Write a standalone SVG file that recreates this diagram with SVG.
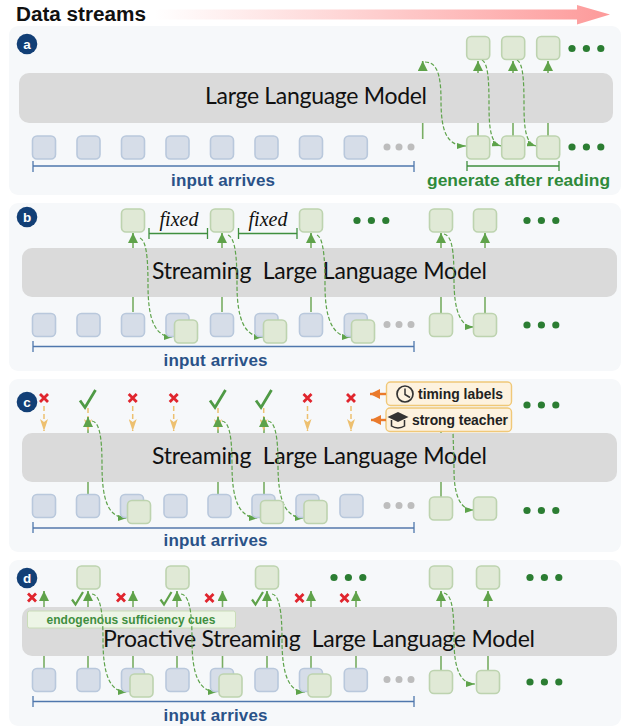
<svg xmlns="http://www.w3.org/2000/svg" width="622" height="726" viewBox="0 0 622 726">
<style>
text{font-family:"Liberation Sans",Arial,sans-serif}
.panel{fill:#f6f8fa}
.bar{fill:#dadada}
.model{font-family:Lato,"Noto Sans",sans-serif;font-size:23px;fill:#111}
.in{fill:#d6dde8;stroke:#b9c8dc;stroke-width:1.6}
.gr{fill:#e0e9d6;stroke:#bdd3af;stroke-width:1.6}
.stem{stroke:#78ad63;stroke-width:1.6;fill:none}
.up{stroke:#5fa24a;stroke-width:1.6;fill:none;marker-end:url(#up)}
.dash{stroke:#5ea34b;stroke-width:1.2;stroke-dasharray:4 2;fill:none;marker-end:url(#dh)}
.ora{stroke:#edc070;stroke-width:1.5;stroke-dasharray:5 3;fill:none;marker-end:url(#oh)}
.hb{stroke:#4f77ad;stroke-width:1.3;fill:none}
.gb{stroke:#3f8f3f;stroke-width:1.3;fill:none}
.blab{font-weight:700;font-size:17px;fill:#2a5288;text-anchor:middle}
.glab{font-weight:700;font-size:17.4px;fill:#2f8a3a;text-anchor:middle}
.fixed{font-family:"Liberation Serif",serif;font-style:italic;font-size:20px;fill:#111;text-anchor:middle}
.badge{fill:#123f76}
.bt{font-weight:700;font-size:13.500px;fill:#fff;text-anchor:middle}
.lab{fill:#fdf2df;stroke:#f0c878;stroke-width:1.4}
.labt{font-weight:700;font-size:13.900px;fill:#222}
.orarr{stroke:#ea7a2c;stroke-width:2.400;fill:none;marker-end:url(#ah)}
</style>
<defs>
<linearGradient id="sg" x1="155" y1="0" x2="610" y2="0" gradientUnits="userSpaceOnUse"><stop offset="0" stop-color="#fff"/><stop offset="1" stop-color="#fd9a9a"/></linearGradient>
<marker id="up" markerUnits="userSpaceOnUse" viewBox="0 0 10 10" refX="10" refY="5" markerWidth="10" markerHeight="10" orient="auto"><path d="M0 0L10 5L0 10Z" fill="#5fa24a"/></marker>
<marker id="dh" markerUnits="userSpaceOnUse" viewBox="0 0 9 6" refX="9" refY="3" markerWidth="9" markerHeight="6" orient="auto"><path d="M0 0L9 3L0 6Z" fill="#5ea34b"/></marker>
<marker id="oh" markerUnits="userSpaceOnUse" viewBox="0 0 12 8" refX="12" refY="4" markerWidth="12" markerHeight="8" orient="auto"><path d="M0 0L12 4L0 8L3 4Z" fill="#edc070"/></marker>
<marker id="ah" markerUnits="userSpaceOnUse" viewBox="0 0 10 10" refX="10" refY="5" markerWidth="10" markerHeight="10" orient="auto"><path d="M0 0L10 5L0 10Z" fill="#ea7a2c"/></marker>
<g id="gd"><circle cx="0" cy="0" r="3.600" fill="#2b7d32"/><circle cx="14.400" cy="0" r="3.600" fill="#2b7d32"/><circle cx="28.800" cy="0" r="3.600" fill="#2b7d32"/></g>
<g id="yd"><circle cx="0" cy="0" r="3.500" fill="#bdbdbd"/><circle cx="12" cy="0" r="3.500" fill="#bdbdbd"/><circle cx="24" cy="0" r="3.500" fill="#bdbdbd"/></g>
<path id="rx" d="M-4-4L4 4M4-4L-4 4" stroke="#e0252d" stroke-width="2.800" fill="none"/>
<path id="ck" d="M-8 1.500L-3 8.500L7.500-9" stroke="#4f9a45" stroke-width="2.800" fill="none"/>
<path id="ckd" d="M-5.500 1L-2 6L5.500-6.500" stroke="#5fa24a" stroke-width="2.200" fill="none"/>
<rect id="in" class="in" x="0" y="0" width="23" height="23" rx="4.500"/>
<rect id="gr" class="gr" x="0" y="0" width="23" height="23" rx="4.500"/>
</defs>

<g id="header">
<text x="16" y="21" font-size="20.700" font-weight="700" fill="#111" textLength="130">Data streams</text>
<path d="M155 9.500H577V5L610 14.500L577 24.500V19.500H155Z" fill="url(#sg)"/>
</g>

<g id="panels">
<rect class="panel" x="9" y="26" width="612" height="169" rx="9"/>
<rect class="panel" x="9" y="203" width="612" height="168" rx="9"/>
<rect class="panel" x="9" y="379" width="612" height="173" rx="9"/>
<rect class="panel" x="9" y="560" width="612" height="166" rx="9"/>
</g>

<g id="models">
<g id="model-a"><rect class="bar" x="19" y="73" width="594" height="50" rx="10"/><text class="model" x="205" y="104" textLength="222">Large Language Model</text></g>
<g id="model-b"><rect class="bar" x="22" y="248" width="595" height="49" rx="10"/><text class="model" x="152" y="279" xml:space="preserve" textLength="335">Streaming  Large Language Model</text></g>
<g id="model-c"><rect class="bar" x="22" y="433" width="595" height="49" rx="10"/><text class="model" x="152" y="464" xml:space="preserve" textLength="335">Streaming  Large Language Model</text></g>
<g id="model-d"><rect class="bar" x="22" y="607" width="595" height="49" rx="10"/>
<rect x="27.500" y="611" width="208" height="17" rx="2" fill="#edf5e6" stroke="#c9dcb8"/>
<text x="131" y="624" font-size="12" font-weight="700" fill="#3f8f3f" text-anchor="middle" textLength="169">endogenous sufficiency cues</text>
<text class="model" x="103" y="647" xml:space="preserve" textLength="432">Proactive Streaming  Large Language Model</text></g>
</g>

<g id="connectors">
<!-- a -->
<path class="stem" d="M422.700 123V139M478 123V136M513 123V136M548 123V136M478 71V73M513 71V73M548 71V73"/>
<path class="up" d="M422.700 71V61"/><path class="up" d="M478 71V61"/><path class="up" d="M513 71V61"/><path class="up" d="M548 71V61"/>
<path class="dash" d="M425 62C437 62 441 75 441 100C441 130 446 146 466 146"/>
<path class="dash" d="M482 60C488 63 489 80 489 105C489 130 491 143 501 146"/>
<path class="dash" d="M517 60C523 63 524 80 524 105C524 130 526 143 536 146"/>
<path class="hb" d="M33 166H414M33 161V172M414 161V172"/>
<path class="gb" d="M467 166H559M467 161V171M559 161V171"/>
<!-- b -->
<path class="stem" d="M133 297V312M222 297V312M311 297V312M441 297V313M485 297V313M133 243V248M222 243V248M311 243V248M441 243V248M485 243V248"/>
<path class="up" d="M133 243V233"/><path class="up" d="M222 243V233"/><path class="up" d="M311 243V233"/><path class="up" d="M441 243V233"/><path class="up" d="M485 243V233"/>
<path class="dash" d="M140 238C146 241 148 255 148 285C148 320 155 337 173 337"/>
<path class="dash" d="M228 235C235 238 237 255 237 285C237 320 245 337 263 337"/>
<path class="dash" d="M317 235C323 238 325 255 325 285C325 320 333 337 351 337"/>
<path class="dash" d="M444 234C452 236 454 250 454 280C454 312 461 327 474 327"/>
<path class="gb" d="M149 233.500H207.500M149 228V239M207.500 228V239"/>
<path class="gb" d="M238.500 233.500H297M238.500 228V239M297 228V239"/>
<path class="hb" d="M33 346.500H414M33 341V352M414 341V352"/>
<!-- c -->
<path class="stem" d="M88 482V494M218 482V494M264 482V494M441 482V497M88 426V433M218 426V433M264 426V433M441 431V433"/>
<path class="ora" d="M44 406V431"/><path class="ora" d="M88 408V431"/><path class="ora" d="M132.700 406V431"/><path class="ora" d="M173.700 406V431"/><path class="ora" d="M218 408V431"/><path class="ora" d="M263.700 408V431"/><path class="ora" d="M307.500 406V431"/><path class="ora" d="M351 406V431"/>
<path class="up" d="M88 426V417"/><path class="up" d="M218 426V417"/><path class="up" d="M264 426V417"/>
<path class="dash" d="M92 421C99 422 102 435 102 465C102 500 108 518 127 518"/>
<path class="dash" d="M222 421C229 422 232 435 232 465C232 500 239 518 258 518"/>
<path class="dash" d="M268 421C275 422 278 435 278 465C278 500 285 518 304 518"/>
<path class="dash" d="M453 428C453 440 454 455 454 470C454 495 460 510 474 510"/>
<path d="M33 528H414" stroke="#7d98bf" stroke-width="2" fill="none"/><path class="hb" d="M33 522V533M414 522V533"/>
<!-- d -->
<path class="stem" d="M44 656V668M88 656V668M133 656V668M177 656V668M222.500 656V668M267 656V668M311 656V668M356 656V668M441 656V670M488 656V670M44 600V607M88 600V607M133 600V607M177 600V607M222.500 600V607M267 600V607M311 600V607M356 600V607M441 600V607M488 600V607"/>
<path class="up" d="M44 600V591"/><path class="up" d="M88 600V591"/><path class="up" d="M133 600V591"/><path class="up" d="M177 600V591"/><path class="up" d="M222.500 600V591"/><path class="up" d="M267 600V591"/><path class="up" d="M311 600V591"/><path class="up" d="M356 600V591"/><path class="up" d="M441 600V591"/><path class="up" d="M488 600V591"/>
<path class="dash" d="M92 594C100 595 103 610 103 640C103 675 110 692 127 692"/>
<path class="dash" d="M181 594C189 595 192 610 192 640C192 675 199 692 217 692"/>
<path class="dash" d="M272 594C279 595 282 610 282 640C282 675 289 692 305 692"/>
<path class="dash" d="M444 593C452 595 454 610 454 640C454 670 461 684 475 684"/>
<path class="hb" d="M33 701.500H414M33 696V707M414 696V707"/>
</g>

<g id="panel-a">
<g id="badge-a"><circle class="badge" cx="27" cy="44" r="10.300"/><text class="bt" x="27" y="48.500">a</text></g>
<g id="a-inputs"><use href="#in" x="32.500" y="136"/><use href="#in" x="77" y="136"/><use href="#in" x="121.500" y="136"/><use href="#in" x="166" y="136"/><use href="#in" x="210.500" y="136"/><use href="#in" x="255" y="136"/><use href="#in" x="299.500" y="136"/><use href="#in" x="344.300" y="136"/><use href="#yd" x="387" y="147"/></g>
<g id="a-outputs"><use href="#gr" x="466.700" y="136"/><use href="#gr" x="501.700" y="136"/><use href="#gr" x="536.700" y="136"/><use href="#gd" x="572" y="147"/><use href="#gr" x="466.700" y="36.500"/><use href="#gr" x="501.700" y="36.500"/><use href="#gr" x="536.700" y="36.500"/><use href="#gd" x="572" y="48.500"/></g>
<text class="blab" x="223" y="186" textLength="104">input arrives</text>
<text class="glab" x="518.500" y="186" textLength="183">generate after reading</text>
</g>

<g id="panel-b">
<g id="badge-b"><circle class="badge" cx="27" cy="217" r="10.300"/><text class="bt" x="27" y="221.800">b</text></g>
<g id="b-inputs"><use href="#in" x="32.500" y="313.500"/><use href="#in" x="77" y="313.500"/><use href="#in" x="121.500" y="313.500"/><use href="#in" x="166" y="313.500"/><use href="#in" x="210.500" y="313.500"/><use href="#in" x="255" y="313.500"/><use href="#in" x="299.500" y="313.500"/><use href="#in" x="344.300" y="313.500"/><use href="#yd" x="387" y="324.500"/></g>
<g id="b-outputs"><use href="#gr" x="174.500" y="320"/><use href="#gr" x="263.500" y="320"/><use href="#gr" x="351.500" y="320"/><use href="#gr" x="121.500" y="209"/><use href="#gr" x="210.500" y="209"/><use href="#gr" x="299.500" y="209"/><use href="#gd" x="357" y="220.500"/><use href="#gr" x="429.500" y="209"/><use href="#gr" x="473.500" y="209"/><use href="#gd" x="527" y="220.500"/><use href="#gr" x="429.500" y="313.500"/><use href="#gr" x="473.500" y="313.500"/><use href="#gd" x="527" y="325"/></g>
<text class="fixed" x="179" y="226">fixed</text><text class="fixed" x="268" y="226">fixed</text>
<text class="blab" x="215.500" y="366" textLength="104">input arrives</text>
</g>

<g id="panel-c">
<g id="badge-c"><circle class="badge" cx="27" cy="402" r="10.300"/><text class="bt" x="27" y="406.800">c</text></g>
<g id="c-marks"><use href="#rx" x="44" y="398"/><use href="#ck" x="88" y="399"/><use href="#rx" x="132.700" y="398"/><use href="#rx" x="173.700" y="398"/><use href="#ck" x="218" y="399"/><use href="#ck" x="264" y="399"/><use href="#rx" x="307.500" y="398"/><use href="#rx" x="351" y="398"/></g>
<g id="c-inputs"><use href="#in" x="32.500" y="494.500"/><use href="#in" x="76.500" y="494.500"/><use href="#in" x="120.500" y="494.500"/><use href="#in" x="164" y="494.500"/><use href="#in" x="208" y="494.500"/><use href="#in" x="252" y="494.500"/><use href="#in" x="296" y="494.500"/><use href="#in" x="340" y="494.500"/><use href="#yd" x="387" y="505.500"/></g>
<g id="c-outputs"><use href="#gr" x="127.500" y="500.500"/><use href="#gr" x="260.500" y="500.500"/><use href="#gr" x="304" y="500.500"/><use href="#gr" x="429.500" y="497"/><use href="#gr" x="473.500" y="497"/><use href="#gd" x="527" y="510.500"/><use href="#gd" x="527" y="405"/></g>
<g id="timing-labels"><rect class="lab" x="386.500" y="382" width="125" height="23.500" rx="4"/>
<circle cx="405" cy="394" r="8" fill="none" stroke="#333" stroke-width="1.700"/><path d="M405 388.500V394.500L410 397.500" fill="none" stroke="#333" stroke-width="1.500"/>
<text class="labt" x="418" y="399" textLength="85">timing labels</text></g>
<g id="strong-teacher"><rect class="lab" x="386" y="408" width="125.500" height="23.500" rx="4"/>
<path d="M398 412L408.500 417L398 422L387.500 417Z" fill="#333"/><path d="M391.500 420V426C395 428.500 401 428.500 404.500 426V420" fill="none" stroke="#333" stroke-width="1.500"/>
<text class="labt" x="412" y="424.500" textLength="96">strong teacher</text></g>
<path class="orarr" d="M386 394H370"/><path class="orarr" d="M386 420H371"/>
<text class="blab" x="215.500" y="546" textLength="104">input arrives</text>
</g>

<g id="panel-d">
<g id="badge-d"><circle class="badge" cx="27" cy="578" r="10.300"/><text class="bt" x="27" y="582.800">d</text></g>
<g id="d-marks"><use href="#rx" x="32" y="597.500"/><use href="#ckd" x="77.500" y="598.500"/><use href="#rx" x="121" y="597.500"/><use href="#ckd" x="166" y="598.500"/><use href="#rx" x="209.500" y="598"/><use href="#ckd" x="257.500" y="598.500"/><use href="#rx" x="299.500" y="598"/><use href="#rx" x="344.500" y="598"/></g>
<g id="d-inputs"><use href="#in" x="32.500" y="668.500"/><use href="#in" x="77" y="668.500"/><use href="#in" x="121.500" y="668.500"/><use href="#in" x="166" y="668.500"/><use href="#in" x="210.500" y="668.500"/><use href="#in" x="255" y="668.500"/><use href="#in" x="299.500" y="668.500"/><use href="#in" x="344.300" y="668.500"/><use href="#yd" x="387" y="679.500"/></g>
<g id="d-outputs"><use href="#gr" x="130" y="674"/><use href="#gr" x="219" y="674"/><use href="#gr" x="308" y="674"/><use href="#gr" x="77" y="566"/><use href="#gr" x="166" y="566"/><use href="#gr" x="255.500" y="566"/><use href="#gd" x="334" y="577.500"/><use href="#gr" x="429.500" y="566"/><use href="#gr" x="476.500" y="566"/><use href="#gd" x="530" y="577.500"/><use href="#gr" x="429.500" y="670.500"/><use href="#gr" x="476.500" y="670.500"/><use href="#gd" x="530" y="682"/></g>
<text class="blab" x="215.500" y="721" textLength="104">input arrives</text>
</g>
</svg>
